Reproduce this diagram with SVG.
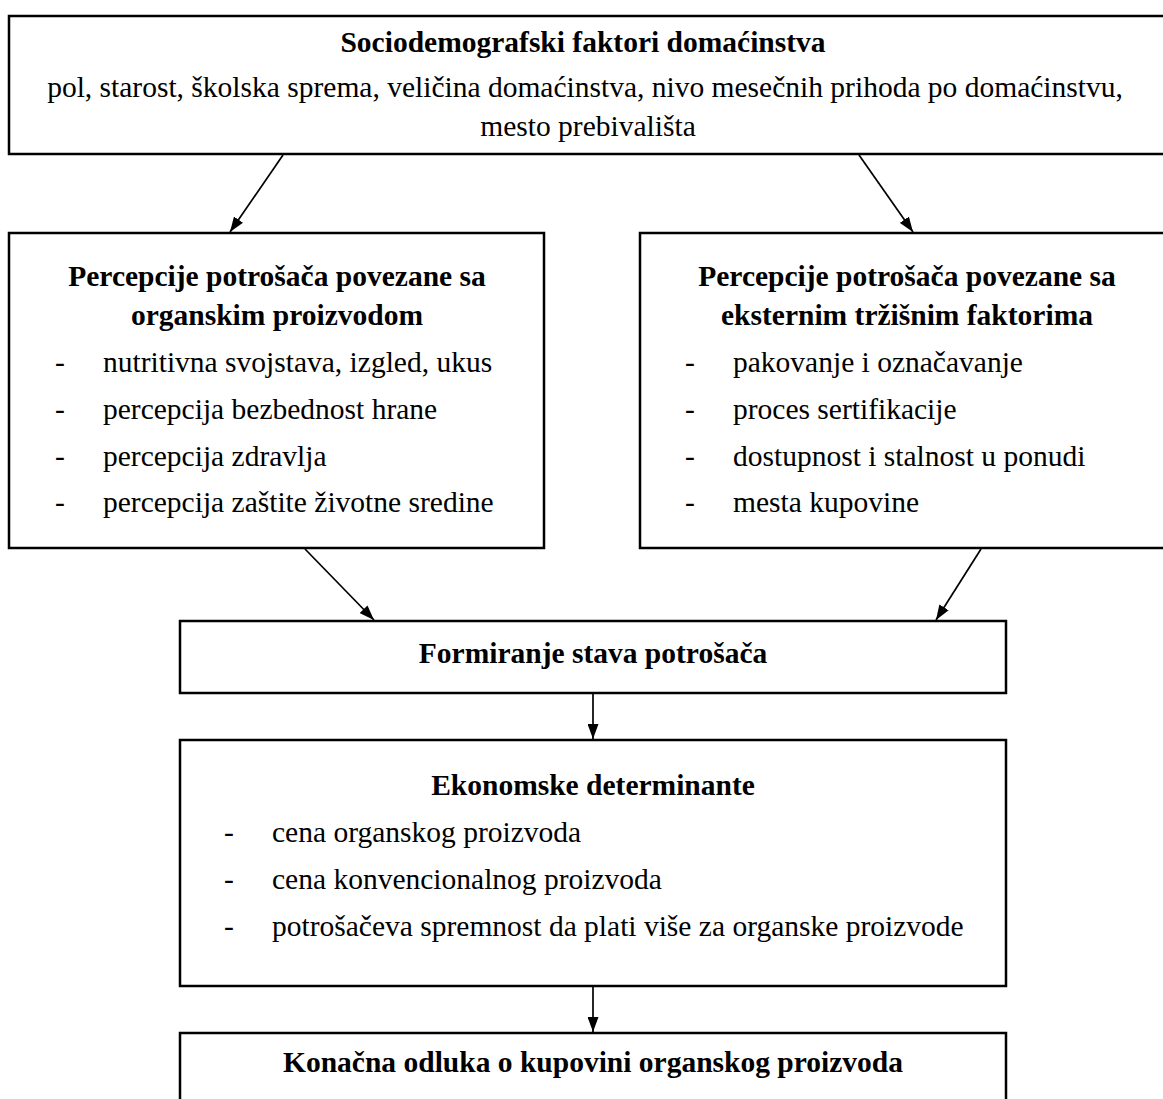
<svg xmlns="http://www.w3.org/2000/svg" width="1163" height="1099" viewBox="0 0 1163 1099">
<style>
.box{fill:#fff;stroke:#000;stroke-width:2.5}
.t{font-family:"Liberation Serif","Times New Roman",serif;font-size:29.5px;fill:#000}
.b{font-weight:bold}
.c{text-anchor:middle}
.con{stroke:#000;stroke-width:1.7;fill:none}
</style>
<defs>
<marker id="ah" markerWidth="15" markerHeight="11" refX="15" refY="5.5" orient="auto" markerUnits="userSpaceOnUse" viewBox="0 0 15 11">
<path d="M0,0 L15,5.5 L0,11 Z" fill="#000"/>
</marker>
</defs>
<rect width="1163" height="1099" fill="#fff"/>
<g id="n-socio">
<rect class="box" x="9" y="16" width="1170" height="138"/>
<text class="t b c" x="583" y="52">Sociodemografski faktori domaćinstva</text>
<text class="t c" x="585" y="97">pol, starost, školska sprema, veličina domaćinstva, nivo mesečnih prihoda po domaćinstvu,</text>
<text class="t c" x="588" y="136">mesto prebivališta</text>
</g>
<g id="n-organski">
<rect class="box" x="9" y="233" width="535" height="315"/>
<text class="t b c" x="277" y="286">Percepcije potrošača povezane sa</text>
<text class="t b c" x="277" y="325">organskim proizvodom</text>
<text class="t" x="55" y="372">-</text><text class="t" x="103" y="372">nutritivna svojstava, izgled, ukus</text>
<text class="t" x="55" y="419">-</text><text class="t" x="103" y="419">percepcija bezbednost hrane</text>
<text class="t" x="55" y="466">-</text><text class="t" x="103" y="466">percepcija zdravlja</text>
<text class="t" x="55" y="512">-</text><text class="t" x="103" y="512">percepcija zaštite životne sredine</text>
</g>
<g id="n-eksterni">
<rect class="box" x="640" y="233" width="540" height="315"/>
<text class="t b c" x="907" y="286">Percepcije potrošača povezane sa</text>
<text class="t b c" x="907" y="325">eksternim tržišnim faktorima</text>
<text class="t" x="685" y="372">-</text><text class="t" x="733" y="372">pakovanje i označavanje</text>
<text class="t" x="685" y="419">-</text><text class="t" x="733" y="419">proces sertifikacije</text>
<text class="t" x="685" y="466">-</text><text class="t" x="733" y="466">dostupnost i stalnost u ponudi</text>
<text class="t" x="685" y="512">-</text><text class="t" x="733" y="512">mesta kupovine</text>
</g>
<g id="n-stav">
<rect class="box" x="180" y="621" width="826" height="72"/>
<text class="t b c" x="593" y="663">Formiranje stava potrošača</text>
</g>
<g id="n-ekonomske">
<rect class="box" x="180" y="740" width="826" height="246"/>
<text class="t b c" x="593" y="795">Ekonomske determinante</text>
<text class="t" x="224" y="842">-</text><text class="t" x="272" y="842">cena organskog proizvoda</text>
<text class="t" x="224" y="889">-</text><text class="t" x="272" y="889">cena konvencionalnog proizvoda</text>
<text class="t" x="224" y="936">-</text><text class="t" x="272" y="936">potrošačeva spremnost da plati više za organske proizvode</text>
</g>
<g id="n-odluka">
<rect class="box" x="180" y="1033" width="826" height="80"/>
<text class="t b c" x="593" y="1072">Konačna odluka o kupovini organskog proizvoda</text>
</g>
<g id="connectors">
<line class="con" x1="283" y1="155" x2="230" y2="232" marker-end="url(#ah)"/>
<line class="con" x1="859" y1="155" x2="913" y2="232" marker-end="url(#ah)"/>
<line class="con" x1="305" y1="549" x2="374" y2="620" marker-end="url(#ah)"/>
<line class="con" x1="981" y1="549" x2="936" y2="620" marker-end="url(#ah)"/>
<line class="con" x1="593" y1="694" x2="593" y2="739" marker-end="url(#ah)"/>
<line class="con" x1="593" y1="987" x2="593" y2="1032" marker-end="url(#ah)"/>
</g>
</svg>
